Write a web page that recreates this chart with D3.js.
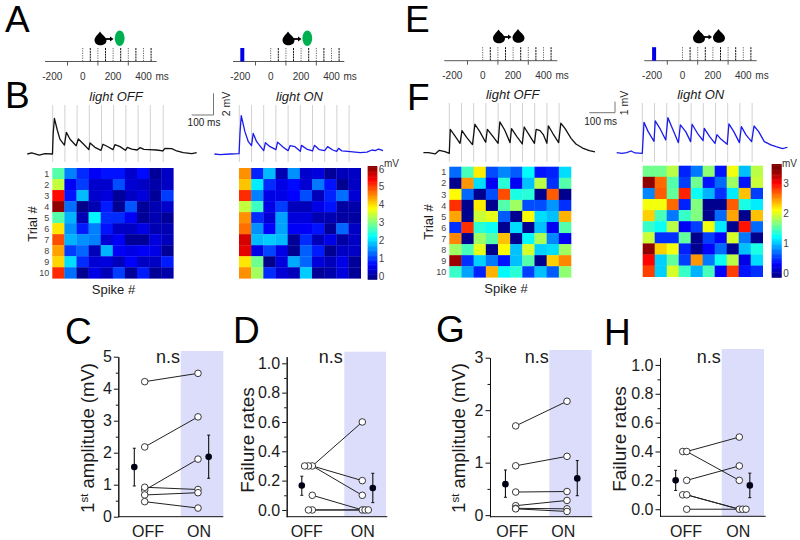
<!DOCTYPE html>
<html><head><meta charset="utf-8">
<script src="https://cdn.jsdelivr.net/npm/d3@7"></script>
<style>
html,body{margin:0;padding:0;background:#fff}
svg{display:block}
text{font-family:"Liberation Sans",Arial,sans-serif}
</style></head><body>
<svg id="c" width="800" height="540"></svg>
<script>
// ---------- DATA ----------
const spikeTimes = [0,50,100,150,200,250,300,350,400,450];
const timeTicks = [-200,0,200,400];
const trialLabels = [1,2,3,4,5,6,7,8,9,10];
const spikeIdx = [1,2,3,4,5,6,7,8,9,10];

const traceBoff = [[-104,0],[-86,.1],[-55,-.1],[-32,.03],[-1,0],[2,1.9],[7,3.3],[19,2.2],[30,1.36],[48,.83],[56,2],[71,1.36],[96,.77],[105,1.39],[126,.93],[148,.4],[153,1.02],[173,.62],[198,.34],[206,.9],[228,.65],[247,.4],[255,.86],[276,.68],[298,.34],[306,.62],[324,.46],[346,.37],[358,.59],[374,.43],[395,.4],[426,.37],[451,.28],[460,.52],[488,.49],[508,.28],[535,.12],[570,.03],[590,.12]];
const traceBon = [[-102,0],[-79,-.06],[-38,0],[-1,.03],[3,2],[8,3.55],[23,2.07],[37,1.14],[50,.77],[57,1.91],[71,1.14],[100,.31],[107,1.05],[126,.68],[150,.4],[157,1.1],[180,.62],[200,.31],[208,.77],[228,.68],[250,.25],[255,.8],[276,.46],[300,.28],[308,.8],[328,.4],[350,.31],[362,.68],[383,.37],[399,.25],[407,.52],[421,.28],[455,.22],[496,.12],[523,.18],[544,.37],[557,.31],[571,.46],[589,.31]];
const traceFoff = [[-106,.06],[-85,.06],[-58,-.06],[-41,.27],[-18,.15],[0,0],[4,2.18],[23,1.58],[44,.91],[52,2.06],[71,1.45],[95,.79],[105,2.64],[125,1.97],[149,1],[156,2.18],[177,1.58],[200,.91],[207,2.85],[227,2.12],[249,.97],[255,2.24],[277,1.52],[299,.85],[307,2.39],[329,1.6],[349,.91],[356,2.18],[372,2.06],[386,1.67],[400,.91],[406,2.5],[424,1.82],[448,.97],[457,2.73],[474,2.27],[499,1.36],[519,.85],[546,.48],[574,.24],[597,.12]];
const traceFon = [[-105,.06],[-84,0],[-64,.06],[-46,.21],[-30,.03],[0,0],[7,2.82],[24,1.97],[48,1.09],[53,2.94],[72,2.27],[96,1.21],[105,3.24],[126,2.12],[148,.97],[156,2.58],[178,1.97],[198,1.06],[204,2.64],[226,1.82],[249,1.15],[254,2.27],[276,1.52],[298,.91],[306,1.7],[323,1.27],[348,.82],[355,2.67],[375,1.97],[398,.97],[406,2.42],[425,1.67],[448,1.06],[458,2.48],[477,1.97],[500,1.06],[527,.76],[548,.6],[575,.42],[595,.55]];

const heatBoff = [
[2.75,1.5,1,.7,.85,.85,.45,.8,.15,.4],
[3.4,.7,1.1,.45,.45,1.2,.5,.4,.25,.4],
[5.2,.85,1.85,.45,.55,.15,.4,.55,.15,1.1],
[5.9,1.4,.05,.3,.9,.1,1.25,.15,.3,.45],
[2.75,1.8,.3,2.2,1,1,.7,.15,.3,.15],
[3.9,1.6,.9,1.5,.85,.4,.4,.6,.3,.3],
[4.8,1.8,1.6,1.5,.5,.7,.15,.15,.55,.35],
[4.3,1.1,1.35,.35,1.8,.7,.6,.7,.6,.15],
[4,2.05,1,.5,.55,.35,.75,.4,.4,.9],
[5,1.4,.1,.6,.35,1.1,.15,.9,.15,.25]];
const heatBon = [
[4.4,.95,1.85,.3,1.6,.45,.55,.15,.35,.4],
[4.1,2.15,1,.6,.8,.5,1.45,.85,.1,.4],
[5,1.5,.6,.6,.75,1.2,.35,.95,1.4,.5],
[3.4,2.6,.6,1.1,.35,.35,.6,.85,.2,.25],
[4.4,1,.5,1.7,.55,.55,.3,.3,.2,.2],
[4.6,1.6,.75,1.7,.7,.7,.85,.15,1.35,.4],
[5.5,1.85,1.95,1.85,.15,1,.35,.6,.2,.4],
[5.4,.6,1.15,.6,.1,1.3,.9,.1,.4,.4],
[3.9,2.9,.05,.55,1.75,1.35,.55,.35,.6,.15],
[4.4,3.2,1,.5,.35,1.95,.15,.25,.55,.15]];
const heatFoff = [
[.8,1.55,2.25,.7,.9,.75,1.3,.5,.55,1.2],
[.05,2.55,1.2,.4,1.45,.4,1.1,1.95,.6,1.6],
[2.2,.8,.05,.7,2.8,1.4,1.45,.05,2.75,.05],
[2.9,.05,2.25,.05,1.6,1.85,.7,.7,.95,.6],
[2.5,.05,2,2.1,.75,.05,2.2,1.2,1.1,2.45],
[.6,2.9,1.45,1.35,.05,1.2,.05,1.1,.4,1.6],
[2.6,.05,1.85,1.6,2.4,.05,1.3,1.9,.9,.4],
[1.85,1.55,2.1,.05,2.2,1.1,2.05,1.15,1.2,1.85],
[3.4,.6,1.15,.85,.5,1.1,1.6,.05,2.35,2.6],
[1.5,1,.55,2.45,1.3,1.45,.65,1.1,.75,1.8]];
const heatFon = [
[1.7,1.7,1.95,.55,.85,1.8,.5,2.15,1.1,1.95],
[3.45,2.7,1.6,.65,1.7,.5,.8,1.85,.5,2],
[.9,2.75,1.65,2.95,1.35,1.05,.6,1.25,2.4,.65],
[2.15,2.15,2.7,.55,1.75,.05,.05,2.75,1.4,1.25],
[2.35,1.55,.85,1.5,1.75,.05,.8,2.5,.05,2.4],
[1.5,1.35,1.95,.4,.65,2.15,1.25,.05,3,.8],
[2,.6,.6,1.65,.05,.65,.45,2.05,.85,.05],
[3.45,2.35,2.15,.55,.05,.45,.8,.05,1.1,1.4],
[3.05,1.15,1.65,.65,2.55,.85,1.35,1.95,.35,1.2],
[2.85,1.15,2.05,1.5,1.05,1.55,.45,2.85,.5,.6]];

const ampOffC = [4.22,2.18,.83,.92,.68,.47];
const ampOnC  = [4.48,3.12,1.8,.85,.75,.27];
const meanC = [{v:1.55,lo:.96,hi:2.14},{v:1.87,lo:1.2,hi:2.55}];
const failOffD = [.3,.3,.3,.1,0,0];
const failOnD  = [.6,.2,.1,0,0,0];
const jitOffD = [0,-.077,-.154,0,0,-.077];
const jitOnD  = [0,0,0,0,.055,.12];
const meanD = [{v:.167,lo:.1,hi:.23},{v:.15,lo:.05,hi:.25}];
const ampOffG = [1.7,.94,.44,.18,.13,.12];
const ampOnG  = [2.17,1.12,.45,.28,.12,.07];
const meanG = [{v:.59,lo:.34,hi:.86},{v:.7,lo:.37,hi:1.04}];
const failOffH = [.4,.4,.2,.1,.1,0];
const failOnH  = [.5,.2,.3,0,0,0];
const jitOffH = [-.076,0,0,-.076,0,0];
const jitOnH  = [0,0,0,0,.063,.127];
const meanH = [{v:.2,lo:.13,hi:.27},{v:.165,lo:.08,hi:.25}];

// ---------- HELPERS ----------
const svg = d3.select('#c');
const TXT = '#1a1a1a';
const jetDomain = [0,.125,.375,.625,.875,1];
const jetRange = ['#000080','#0000ff','#00ffff','#ffff00','#ff0000','#800000'];

function text(x,y,s,size,opt={}){
  return svg.append('text').attr('x',x).attr('y',y).text(s)
    .attr('font-size',size).attr('fill',opt.fill||TXT)
    .attr('text-anchor',opt.anchor||'middle')
    .attr('font-style',opt.italic?'italic':null)
    .attr('transform',opt.rot?`rotate(${opt.rot} ${x} ${y})`:null);
}

[['A',5,32],['B',5,108],['C',65,344],['D',233,343],['E',405,32],['F',407,110],['G',436,342],['H',604,345]]
  .forEach(d=>text(d[1],d[2],d[0],37,{anchor:'start',fill:'#000'}));

function timeline(o){
  const x = d3.scaleLinear().domain([0,100]).range([o.x0,o.x0+15.2]);
  const g = svg.append('g');
  g.append('line').attr('x1',o.xa).attr('x2',o.xb).attr('y1',o.y).attr('y2',o.y).attr('stroke','#444').attr('stroke-width',.9);
  g.selectAll('.t').data([-100,100,300]).join('line').attr('x1',d=>x(d)).attr('x2',d=>x(d)).attr('y1',o.y).attr('y2',o.y+4).attr('stroke','#444').attr('stroke-width',.9);
  g.selectAll('.s').data(spikeTimes).join('line')
    .attr('x1',d=>x(d)).attr('x2',d=>x(d)).attr('y1',o.y-13.5).attr('y2',o.y)
    .attr('stroke',(d,i)=>i%2?'#111':'#666').attr('stroke-width',1)
    .attr('stroke-dasharray',(d,i)=>i%2?'2 .8':'1.2 1.2');
  g.selectAll('.l').data(timeTicks).join('text')
    .attr('x',d=>x(d)).attr('y',o.y+18).attr('text-anchor','middle').attr('font-size',10).attr('fill','#333').text(d=>d);
  text(x(400)+12,o.y+18,'ms',10,{anchor:'start',fill:'#333'});
  if(o.light) g.append('rect').attr('x',x(-200)).attr('width',4).attr('y',o.y-13.5).attr('height',13.5).attr('fill','#0000e6');
}
timeline({x0:82.7,xa:45,xb:156.7,y:61.5});
timeline({x0:270.7,xa:233,xb:344.3,y:61.5,light:1});
timeline({x0:482.7,xa:444.3,xb:557.3,y:60.7});
timeline({x0:682.5,xa:644.3,xb:756.7,y:60.7,light:1});

function neuron(cx,cy,arrowTo){
  svg.append('path').attr('fill','#000').attr('transform',`translate(${cx},${cy})`)
    .attr('d','M-0.5,-7 C1,-4 6,-1.5 6,2 C6,5.2 3,6.8 0,6.8 C-3.2,6.8 -6,4.8 -6,1.8 C-6,-2 -2,-4 -0.5,-7Z');
  if(arrowTo){
    svg.append('line').attr('x1',cx+4).attr('x2',arrowTo-2).attr('y1',cy+.5).attr('y2',cy+.5).attr('stroke','#000').attr('stroke-width',1.8);
    svg.append('path').attr('fill','#000').attr('d',`M${arrowTo},${cy+.5} l-3.5,-2.4 v4.8z`);
  }
}
neuron(100.5,38.5,113.5);
svg.append('ellipse').attr('cx',119.7).attr('cy',38.3).attr('rx',4.9).attr('ry',7.7).attr('fill','#00b050');
neuron(288.5,38.5,301.5);
svg.append('ellipse').attr('cx',307.3).attr('cy',38.3).attr('rx',4.9).attr('ry',7.7).attr('fill','#00b050');
neuron(499,36.5,511.5); neuron(518.5,36,null);
neuron(699,36.5,712); neuron(719,36,null);

[[116,96.7,'light OFF'],[299.5,96.7,'light ON'],[512.7,94.5,'light OFF'],[700.7,94.5,'light ON']]
  .forEach(d=>text(d[0],d[1]+4.5,d[2],13,{italic:1}));

function trace(o){
  const x = d3.scaleLinear().domain([0,100]).range([o.x0,o.x0+24.4]);
  const y = d3.scaleLinear().domain([0,1]).range([o.y0,o.y0-o.mv]);
  svg.append('g').selectAll('line').data(o.lines).join('line')
    .attr('x1',d=>x(d)).attr('x2',d=>x(d)).attr('y1',o.top).attr('y2',162)
    .attr('stroke','#d2d2d2').attr('stroke-width',1);
  svg.append('path').datum(o.data).attr('fill','none').attr('stroke',o.color).attr('stroke-width',1.3)
    .attr('stroke-linejoin','round')
    .attr('d',d3.line().x(d=>x(d[0])).y(d=>y(d[1])));
}
const linesBoff = spikeTimes.map((t,i)=>i===9?453:t);
trace({x0:52.7,y0:154,mv:10.8,top:105,data:traceBoff,color:'#111',lines:linesBoff});
trace({x0:239.3,y0:154,mv:10.8,top:105,data:traceBon,color:'#1a1aee',lines:spikeTimes});
trace({x0:449.3,y0:153.3,mv:11,top:103,data:traceFoff,color:'#111',lines:spikeTimes});
trace({x0:642.3,y0:153.3,mv:11,top:103,data:traceFon,color:'#1a1aee',lines:spikeTimes});

function scaleBar(x0,x1,yb,yt){
  svg.append('path').attr('fill','none').attr('stroke','#666').attr('stroke-width',.9)
    .attr('d',`M${x0},${yb}H${x1}V${yt}`);
}
scaleBar(191.7,213.5,115,93.3);
text(204,126.3,'100 ms',10);
text(230.2,104,'2 mV',10.5,{rot:-90});
scaleBar(589.3,615,112.7,101.7);
text(600.7,125.3,'100 ms',10);
text(627.5,103,'1 mV',10.5,{rot:-90});

function heat(o){
  const x = d3.scaleBand().domain(spikeIdx).range([o.x0,o.x1]);
  const y = d3.scaleBand().domain(trialLabels).range([o.y0,o.y1]);
  const col = d3.scaleLinear().domain(jetDomain.map(d=>d*o.max)).range(jetRange).clamp(true);
  const g = svg.append('g');
  o.data.forEach((row,r)=>{
    g.selectAll(null).data(row).join('rect')
      .attr('x',(d,c)=>x(spikeIdx[c])).attr('y',y(trialLabels[r]))
      .attr('width',x.bandwidth()+.3).attr('height',y.bandwidth()+.3)
      .attr('fill',d=>col(d));
  });
  if(o.labels){
    g.selectAll('.tl').data(trialLabels).join('text')
      .attr('x',o.x0-3).attr('y',d=>y(d)+y.bandwidth()/2+3.2).attr('text-anchor','end')
      .attr('font-size',9).attr('fill','#444').text(d=>d);
  }
}
heat({x0:52.3,x1:173.3,y0:168,y1:278.3,max:6,data:heatBoff,labels:1});
heat({x0:239,x1:360.7,y0:168,y1:278.3,max:6,data:heatBon});
heat({x0:449.3,x1:571,y0:166.7,y1:277.3,max:3.5,data:heatFoff,labels:1});
heat({x0:642.7,x1:762.7,y0:165.7,y1:276.7,max:3.5,data:heatFon});
text(37,224,'Trial #',13,{rot:-90});
text(113.5,294,'Spike #',13);
text(433,222,'Trial #',13,{rot:-90});
text(506,293,'Spike #',13);

function colorbar(o){
  const y = d3.scaleLinear().domain([0,o.top]).range([o.y1,o.y0]);
  const col = d3.scaleLinear().domain(jetDomain.map(d=>d*o.max)).range(jetRange).clamp(true);
  const vals = d3.range(0,o.top,o.top/90);
  svg.append('g').selectAll('rect').data(vals).join('rect')
    .attr('x',o.x).attr('width',o.w).attr('y',d=>y(d+o.top/90)).attr('height',(o.y1-o.y0)/90+.5)
    .attr('fill',d=>col(d));
  const ly = d3.scaleLinear().domain([0,o.ticks[o.ticks.length-1]]).range(o.labelY);
  svg.append('g').selectAll('text').data(o.ticks).join('text')
    .attr('x',o.x+o.w+1.5).attr('y',d=>ly(d)).attr('font-size',10).attr('fill','#444').text(d=>d);
  text(o.mx,o.my,'mV',10,{anchor:'start',fill:'#333'});
}
colorbar({x:367.7,w:9.6,y0:166,y1:279.3,top:6,max:6,ticks:[0,1,2,3,4,5,6],labelY:[280,172.5],mx:384,my:167});
colorbar({x:771.7,w:10,y0:164,y1:277.3,top:3.7,max:3.5,ticks:[0,1,2,3],labelY:[277.3,186.6],mx:782,my:167});

function panel(o){
  const y = d3.scaleLinear().domain(o.dom).range([o.bottom,o.topY]);
  const x = d3.scaleLinear().domain([0,1]).range([o.xOff,o.xOn]);
  svg.append('rect').attr('x',o.rx0).attr('width',o.rx1-o.rx0).attr('y',o.rtop).attr('height',o.bottom-o.rtop).attr('fill','#dcdcfb');
  const gm = svg.append('g').attr('transform',`translate(${o.ax},0)`)
    .call(d3.axisLeft(y).tickValues(o.minor).tickSize(2.5).tickFormat('').tickSizeOuter(0));
  const gy = svg.append('g').attr('transform',`translate(${o.ax},0)`)
    .call(d3.axisLeft(y).tickValues(o.ticks).tickSize(4.5).tickPadding(2).tickFormat(o.fmt).tickSizeOuter(0));
  svg.selectAll('.domain').attr('stroke','#111').attr('stroke-width',1);
  gy.selectAll('text').attr('font-size',16).attr('fill',TXT).attr('font-family','"Liberation Sans",Arial,sans-serif');
  gy.selectAll('line').attr('stroke','#111'); gm.selectAll('line').attr('stroke','#111');
  svg.append('line').attr('x1',o.ax).attr('x2',o.axEnd).attr('y1',o.bottom).attr('y2',o.bottom).attr('stroke','#111').attr('stroke-width',1);
  const g = svg.append('g');
  const n = o.off.length;
  g.selectAll('.l').data(d3.range(n)).join('line')
    .attr('x1',x(0)).attr('x2',x(1)).attr('y1',i=>y(o.off[i])).attr('y2',i=>y(o.on[i]))
    .attr('stroke','#222').attr('stroke-width',1);
  const jo=o.jitOff||o.off.map(()=>0), ju=o.jitOn||o.on.map(()=>0);
  const pts = o.off.map((v,i)=>({c:0+jo[i],v})).concat(o.on.map((v,i)=>({c:1+ju[i],v})));
  g.selectAll('circle.o').data(pts).join('circle')
    .attr('cx',d=>x(d.c)).attr('cy',d=>y(d.v)).attr('r',3.3)
    .attr('fill','#fff').attr('stroke','#222').attr('stroke-width',.9);
  o.mean.forEach((m,i)=>{
    const cx = x(o.meanX[i]);
    g.append('line').attr('x1',cx).attr('x2',cx).attr('y1',y(m.lo)).attr('y2',y(m.hi)).attr('stroke','#111').attr('stroke-width',1.1);
    [m.lo,m.hi].forEach(e=>g.append('line').attr('x1',cx-1.5).attr('x2',cx+1.5).attr('y1',y(e)).attr('y2',y(e)).attr('stroke','#111').attr('stroke-width',1));
    g.append('circle').attr('cx',cx).attr('cy',y(m.v)).attr('r',3.3).attr('fill','#000014');
  });
  text(o.nsx,363,'n.s',18);
  text(o.offL,537,'OFF',16);
  text(o.onL,537,'ON',16);
  if(o.sup){
    const t = svg.append('text').attr('transform',`translate(${o.tx},${o.ty}) rotate(-90)`)
      .attr('text-anchor','middle').attr('font-size',o.tfs).attr('fill',TXT);
    t.append('tspan').text('1');
    t.append('tspan').text('st').attr('font-size',o.tfs*.62).attr('dy',-o.tfs*.33);
    t.append('tspan').text(' amplitude (mV)').attr('dy',o.tfs*.33);
  } else {
    text(o.tx,o.ty,o.title,o.tfs,{rot:-90});
  }
}
const f1 = d3.format('.1f');
panel({dom:[0,5],topY:356.7,bottom:516.7,ax:118.3,axEnd:223.3,rx0:180.7,rx1:223.3,rtop:351,xOff:144.7,xOn:198,
  off:ampOffC,on:ampOnC,mean:meanC,meanX:[-.195,1.2],ticks:[0,1,2,3,4,5],minor:[.5,1.5,2.5,3.5,4.5],fmt:d=>d,
  nsx:168,offL:148,onL:199,tx:94,ty:438,tfs:18.5,sup:1});
panel({dom:[-.046,1.045],topY:356.7,bottom:516.7,ax:286.7,axEnd:387.3,rx0:344.3,rx1:386,rtop:351.7,xOff:312.3,xOn:362.3,
  off:failOffD,on:failOnD,jitOff:jitOffD,jitOn:jitOnD,mean:meanD,meanX:[-.21,1.21],ticks:[0,.2,.4,.6,.8,1],minor:[.1,.3,.5,.7,.9],fmt:f1,
  nsx:330.8,offL:306.7,onL:362.7,tx:254,ty:440,tfs:19,title:'Failure rates'});
panel({dom:[-.03,3],topY:357.7,bottom:516.7,ax:490,axEnd:592.3,rx0:549.3,rx1:591.7,rtop:350,xOff:515.7,xOn:567,
  off:ampOffG,on:ampOnG,mean:meanG,meanX:[-.2,1.2],ticks:[0,1,2,3],minor:[.5,1.5,2.5],fmt:d=>d,
  nsx:536.7,offL:512.3,onL:563.3,tx:465,ty:438,tfs:18.5,sup:1});
panel({dom:[-.049,1.05],topY:357.7,bottom:516.3,ax:660,axEnd:765.7,rx0:721.7,rx1:764,rtop:349,xOff:686.7,xOn:739.3,
  off:failOffH,on:failOnH,jitOff:jitOffH,jitOn:jitOnH,mean:meanH,meanX:[-.21,1.2],ticks:[0,.2,.4,.6,.8,1],minor:[.1,.3,.5,.7,.9],fmt:f1,
  nsx:708.7,offL:686,onL:738.3,tx:626,ty:439,tfs:19,title:'Failure rates'});
</script>
</body></html>
